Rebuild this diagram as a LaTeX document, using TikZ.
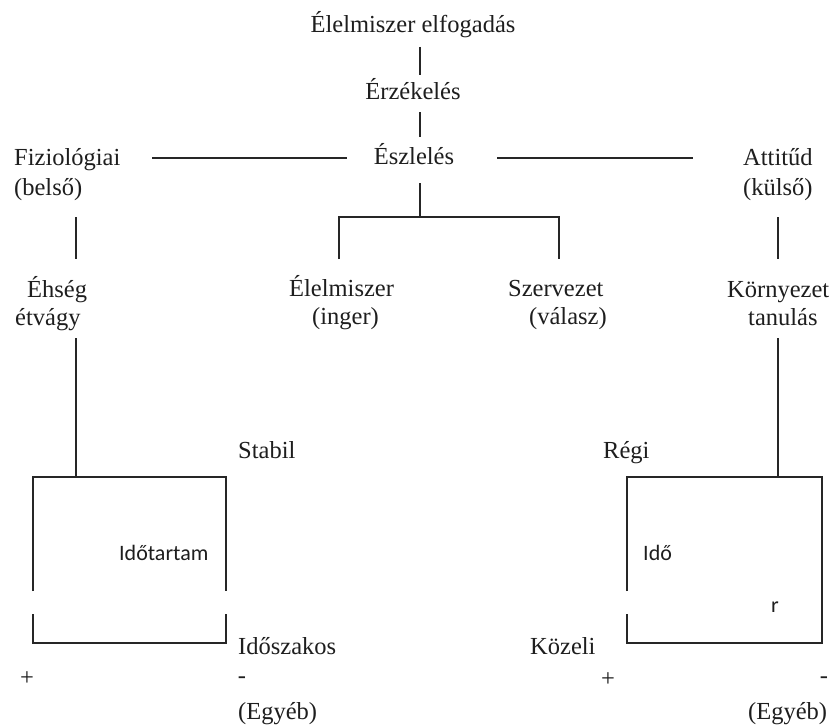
\documentclass[tikz,border=0pt]{standalone}
\usepackage{fontspec}
\setmainfont{Liberation Serif}
\newfontfamily\labelsans{Carlito}
\definecolor{ink}{HTML}{1E1E1E}
\definecolor{rule}{HTML}{262626}
\begin{document}
\begin{tikzpicture}[x=1pt,y=-1pt,
  serif/.style={anchor=base west,inner sep=0pt,text=ink,font=\fontsize{24.5}{28}\selectfont},
  serifc/.style={anchor=base,inner sep=0pt,text=ink,font=\fontsize{24.5}{28}\selectfont},
  sans/.style={anchor=base west,inner sep=0pt,text=ink,font=\labelsans\fontsize{22}{26}\selectfont},
  sign/.style={anchor=center,inner sep=0pt,text=ink,font=\fontsize{24.5}{28}\selectfont},
  link/.style={draw=rule,line width=1.3pt},
  frame/.style={draw=rule,line width=1.5pt}]
\useasboundingbox[fill=white] (0,0) rectangle (832,725);

% --- top chain ---------------------------------------------------------
\node[serifc] (accept) at (413,33) {Élelmiszer elfogadás};
\node[serifc] (sense)  at (413,99) {Érzékelés};
\node[serifc] (percept) at (414,164) {Észlelés};

% --- second level ------------------------------------------------------
\node[serif] (phys)  at (14,165) {Fiziológiai};
\node[serif] (physb) at (14,195) {(belső)};
\node[serif] (att)   at (743,165) {Attitűd};
\node[serif] (attb)  at (743,195) {(külső)};

% --- third level -------------------------------------------------------
\node[serif] (hunger)   at (27,297) {Éhség};
\node[serif] (appetite) at (15,325) {étvágy};
\node[serif] (food)     at (289,296) {Élelmiszer};
\node[serif] (foodb)    at (312,324) {(inger)};
\node[serif] (org)      at (508,296) {Szervezet};
\node[serif] (orgb)     at (529,324) {(válasz)};
\node[serif] (env)      at (727,297) {Környezet};
\node[serif] (envb)     at (748,325) {tanulás};

% --- lower labels ------------------------------------------------------
\node[serif] (stable) at (238,458) {Stabil};
\node[serif] (old)    at (603,458) {Régi};
\node[sans]  (dur)    at (119,560) {Időtartam};
\node[sans]  (time)   at (643,560) {Idő};
\node[sans]  (rr)     at (771,612) {r};
\node[serif] (period) at (238,654) {Időszakos};
\node[serif] (near)   at (530,654) {Közeli};
\node[sign]  (plusL)  at (27,679) {+};
\node[sign]  (minusL) at (242,680) {-};
\node[serif] (otherL) at (238,719) {(Egyéb)};
\node[sign]  (plusR)  at (608,680) {+};
\node[sign]  (minusR) at (824,680) {-};
\node[serif] (otherR) at (748,719) {(Egyéb)};

% --- connector end points ----------------------------------------------
\coordinate (c1a) at (420,47);  \coordinate (c1b) at (420,75);
\coordinate (c2a) at (420,112); \coordinate (c2b) at (420,137);
\coordinate (hLa) at (152,158); \coordinate (hLb) at (347,158);
\coordinate (hRa) at (497,158); \coordinate (hRb) at (693,158);
\coordinate (c3a) at (420,183); \coordinate (c3b) at (420,217);
\coordinate (brL) at (339,217); \coordinate (brR) at (559,217);
\coordinate (brLd) at (339,259); \coordinate (brRd) at (559,259);
\coordinate (vLa) at (76,217);  \coordinate (vLb) at (76,259);
\coordinate (vRa) at (778,217); \coordinate (vRb) at (778,259);
\coordinate (lLa) at (76,338);  \coordinate (lLb) at (76,477);
\coordinate (lRa) at (778,338); \coordinate (lRb) at (778,477);

\draw[link] (c1a) -- (c1b);
\draw[link] (c2a) -- (c2b);
\draw[link] (hLa) -- (hLb);
\draw[link] (hRa) -- (hRb);
\draw[link] (c3a) -- (c3b);
\draw[link] (brLd) -- (brL) -- (brR) -- (brRd);
\draw[link] (vLa) -- (vLb);
\draw[link] (vRa) -- (vRb);
\draw[link] (lLa) -- (lLb);
\draw[link] (lRa) -- (lRb);

% --- left box (both sides broken) --------------------------------------
\draw[frame] (33,591) -- (33,477) -- (226,477) -- (226,591);
\draw[frame] (33,614) -- (33,643) -- (226,643) -- (226,614);

% --- right box (left side broken) --------------------------------------
\draw[frame] (627,591) -- (627,477) -- (822,477) -- (822,643) -- (627,643) -- (627,614);
\end{tikzpicture}
\end{document}
